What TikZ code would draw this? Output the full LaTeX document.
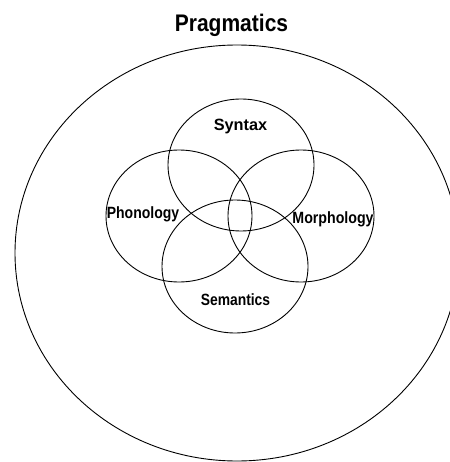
\documentclass[tikz,border=0pt]{standalone}
\usepackage{fontspec}
\setmainfont{Liberation Sans}
\begin{document}
\begin{tikzpicture}[x=1pt,y=-1pt,line width=0.9pt,
  lab/.style={anchor=base,inner sep=0pt,font=\bfseries\fontsize{16.3}{18}\selectfont},
  title/.style={anchor=base,inner sep=0pt,font=\bfseries\fontsize{24}{28}\selectfont}]
\useasboundingbox (0,0) rectangle (449,462);
\draw (237,253) ellipse [x radius=222, y radius=208];
\draw (241,165) ellipse [x radius=73, y radius=66];
\draw (179,216) ellipse [x radius=73, y radius=66];
\draw (301,216) ellipse [x radius=73, y radius=66];
\draw (235,266.5) ellipse [x radius=73, y radius=66.5];
\node[title] (prag) at (231.5,32) {\scalebox{0.875}[1]{Pragmatics}};
\node[lab] (syn) at (240.5,131) {Syntax};
\node[lab] (pho) at (143,218.5) {\scalebox{0.86}[1]{Phonology}};
\node[lab] (mor) at (333,223.5) {\scalebox{0.87}[1]{Morphology}};
\node[lab] (sem) at (235.5,305) {\scalebox{0.85}[1]{Semantics}};
\end{tikzpicture}
\end{document}
